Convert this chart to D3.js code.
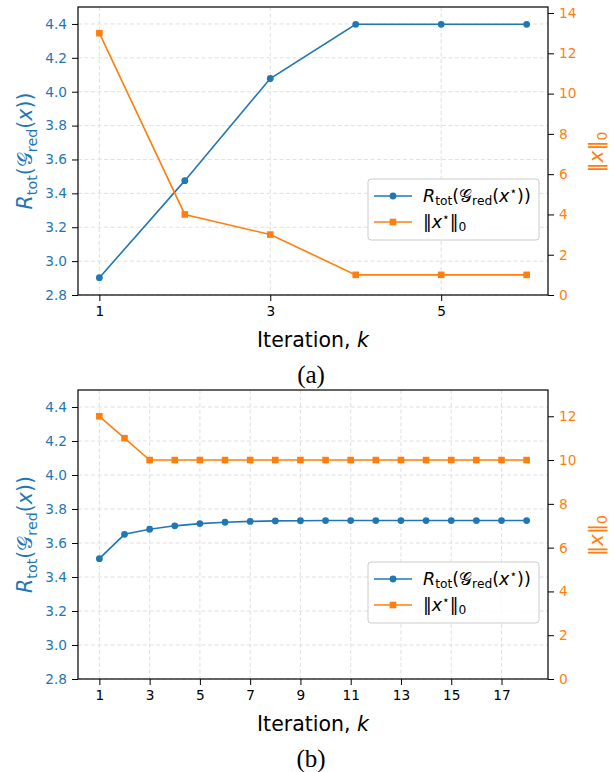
<!DOCTYPE html>
<html>
<head>
<meta charset="utf-8">
<script src="https://cdn.jsdelivr.net/npm/d3@7"></script>
<style>
  body { margin: 0; background: #fff; }
  svg { display: block; font-family: "DejaVu Sans", sans-serif; }
  .grid line { stroke: #dcdcdc; stroke-dasharray: 4,2.5; stroke-width: 0.9; }
  .axis path { display: none; }
  .axis line { stroke: #000; stroke-width: 1; }
  .axis text { font-size: 13.7px; font-family: "DejaVu Sans", sans-serif; }
  .frame { fill: none; stroke: #000; stroke-width: 1.2; }
  .caption { font-family: "Liberation Serif", "DejaVu Serif", serif; font-size: 25px; }
</style>
</head>
<body>
<svg id="chart" width="616" height="772"></svg>
<script>
// panel (a)
const iterA = [1, 2, 3, 4, 5, 6];
const rtotA = [2.902, 3.475, 4.078, 4.398, 4.398, 4.398];
const l0A = [13, 4, 3, 1, 1, 1];
const xTicksA = [1, 3, 5];
const rightTicksA = [0, 2, 4, 6, 8, 10, 12, 14];

// panel (b)
const iterB = [1, 2, 3, 4, 5, 6, 7, 8, 9, 10, 11, 12, 13, 14, 15, 16, 17, 18];
const rtotB = [3.508, 3.651, 3.681, 3.701, 3.714, 3.722, 3.727, 3.730, 3.731, 3.732,
  3.732, 3.732, 3.732, 3.732, 3.732, 3.732, 3.732, 3.732];
const l0B = [12, 11, 10, 10, 10, 10, 10, 10, 10, 10, 10, 10, 10, 10, 10, 10, 10, 10];
const xTicksB = [1, 3, 5, 7, 9, 11, 13, 15, 17];
const rightTicksB = [0, 2, 4, 6, 8, 10, 12];

// shared left axis
const leftTicks = [2.8, 3.0, 3.2, 3.4, 3.6, 3.8, 4.0, 4.2, 4.4];
const leftDomain = [2.8, 4.5];

const BLUE = "#1f77b4";
const ORANGE = "#ff7f0e";

// mathtext-ish labels built from tspans
const rtotLabel = [
  { t: "R", it: true }, { t: "tot", sub: true }, { t: "(" }, { t: "𝒢" },
  { t: "red", sub: true }, { t: "(" }, { t: "x", it: true }, { t: "))" }
];
const rtotLegend = [
  { t: "R", it: true }, { t: "tot", sub: true }, { t: "(" }, { t: "𝒢" },
  { t: "red", sub: true }, { t: "(" }, { t: "x", it: true }, { t: "⋆", sup: true }, { t: "))" }
];
const normLabel = [{ t: "‖" }, { t: "x", it: true }, { t: "‖" }, { t: "0", sub: true }];
const normLegend = [
  { t: "‖" }, { t: "x", it: true }, { t: "⋆", sup: true }, { t: "‖" }, { t: "0", sub: true }
];

function mathText(sel, parts, size) {
  let shift = 0;
  parts.forEach((p) => {
    const target = p.sub ? size * 0.22 : p.sup ? -size * 0.38 : 0;
    const ts = sel
      .append("tspan")
      .attr("dy", target - shift)
      .style("font-size", (p.sub || p.sup ? size * 0.7 : size) + "px")
      .text(p.t);
    if (p.it) ts.style("font-style", "italic");
    shift = target;
  });
}

class DualAxisPanel {
  constructor(_config, _iter, _rtot, _l0, _xTicks, _rightTicks) {
    this.config = {
      parent: _config.parent,
      left: _config.left,
      top: _config.top,
      width: _config.width,
      height: _config.height,
      caption: _config.caption,
    };
    this.iter = _iter;
    this.rtot = _rtot;
    this.l0 = _l0;
    this.xTicks = _xTicks;
    this.rightTicks = _rightTicks;
    this.initVis();
  }

  initVis() {
    let vis = this;
    const c = vis.config;

    vis.g = d3.select(c.parent).append("g")
      .attr("transform", `translate(${c.left},${c.top})`);

    // matplotlib-like 5% margins on x, 10% headroom on the right axis
    const ext = d3.extent(vis.iter);
    const pad = (ext[1] - ext[0]) * 0.05;
    vis.x = d3.scaleLinear().domain([ext[0] - pad, ext[1] + pad]).range([0, c.width]);
    vis.yL = d3.scaleLinear().domain(leftDomain).range([c.height, 0]);
    vis.yR = d3.scaleLinear().domain([0, d3.max(vis.l0) * 1.1]).range([c.height, 0]);

    vis.renderVis();
  }

  renderVis() {
    let vis = this;
    const c = vis.config;
    const g = vis.g;

    // grid
    const grid = g.append("g").attr("class", "grid");
    grid.selectAll(".gx").data(vis.xTicks).join("line")
      .attr("x1", (d) => vis.x(d)).attr("x2", (d) => vis.x(d))
      .attr("y1", 0).attr("y2", c.height);
    grid.selectAll(".gy").data(leftTicks).join("line")
      .attr("x1", 0).attr("x2", c.width)
      .attr("y1", (d) => vis.yL(d)).attr("y2", (d) => vis.yL(d));

    // series
    const lineL = d3.line().x((d, i) => vis.x(vis.iter[i])).y((d) => vis.yL(d));
    const lineR = d3.line().x((d, i) => vis.x(vis.iter[i])).y((d) => vis.yR(d));

    g.append("path").datum(vis.rtot)
      .attr("d", lineL).attr("fill", "none")
      .attr("stroke", BLUE).attr("stroke-width", 1.6);
    g.selectAll(".dot").data(vis.rtot).join("circle")
      .attr("class", "dot")
      .attr("cx", (d, i) => vis.x(vis.iter[i]))
      .attr("cy", (d) => vis.yL(d))
      .attr("r", 3.4).attr("fill", BLUE);

    g.append("path").datum(vis.l0)
      .attr("d", lineR).attr("fill", "none")
      .attr("stroke", ORANGE).attr("stroke-width", 1.6);
    const s = 6.6;
    g.selectAll(".sq").data(vis.l0).join("rect")
      .attr("class", "sq")
      .attr("x", (d, i) => vis.x(vis.iter[i]) - s / 2)
      .attr("y", (d) => vis.yR(d) - s / 2)
      .attr("width", s).attr("height", s).attr("fill", ORANGE);

    // axes
    const ax = g.append("g").attr("class", "axis")
      .attr("transform", `translate(0,${c.height})`)
      .call(d3.axisBottom(vis.x).tickValues(vis.xTicks).tickFormat(d3.format("d"))
        .tickSize(6).tickPadding(5));
    ax.selectAll("text").attr("fill", "#000");

    const ayl = g.append("g").attr("class", "axis")
      .call(d3.axisLeft(vis.yL).tickValues(leftTicks).tickFormat(d3.format(".1f"))
        .tickSize(6).tickPadding(5));
    ayl.selectAll("text").attr("fill", BLUE);

    const ayr = g.append("g").attr("class", "axis")
      .attr("transform", `translate(${c.width},0)`)
      .call(d3.axisRight(vis.yR).tickValues(vis.rightTicks).tickFormat(d3.format("d"))
        .tickSize(6).tickPadding(5));
    ayr.selectAll("text").attr("fill", ORANGE);

    g.append("rect").attr("class", "frame")
      .attr("width", c.width).attr("height", c.height);

    // axis titles
    const yl = g.append("text")
      .attr("transform", `translate(${-46},${c.height / 2}) rotate(-90)`)
      .attr("text-anchor", "middle").attr("fill", BLUE);
    mathText(yl, rtotLabel, 20.5);

    const yr = g.append("text")
      .attr("transform", `translate(${c.width + 55},${c.height / 2 + 1}) rotate(-90)`)
      .attr("text-anchor", "middle").attr("fill", ORANGE);
    mathText(yr, normLabel, 20);

    g.append("text")
      .attr("x", c.width / 2).attr("y", c.height + 51.5)
      .attr("text-anchor", "middle")
      .style("font-size", "20.5px")
      .html('Iteration, <tspan font-style="italic">k</tspan>');

    g.append("text").attr("class", "caption")
      .attr("x", c.width / 2 - 2).attr("y", c.height + 88)
      .attr("text-anchor", "middle")
      .text(c.caption);

    // legend
    const lw = 171, lh = 61;
    const lg = g.append("g")
      .attr("transform", `translate(${c.width - 9 - lw},${172})`);
    lg.append("rect")
      .attr("width", lw).attr("height", lh).attr("rx", 3)
      .attr("fill", "#fff").attr("fill-opacity", 0.85)
      .attr("stroke", "#cccccc").attr("stroke-width", 1);

    const items = [
      { color: BLUE, parts: rtotLegend, marker: "circle" },
      { color: ORANGE, parts: normLegend, marker: "square" },
    ];
    const it = lg.selectAll(".legend-item").data(items).join("g")
      .attr("class", "legend-item")
      .attr("transform", (d, i) => `translate(0,${17 + i * 26})`);
    it.append("line")
      .attr("x1", 6).attr("x2", 44)
      .attr("stroke", (d) => d.color).attr("stroke-width", 1.6);
    it.filter((d) => d.marker === "circle").append("circle")
      .attr("cx", 25).attr("r", 3.4).attr("fill", (d) => d.color);
    it.filter((d) => d.marker === "square").append("rect")
      .attr("x", 25 - s / 2).attr("y", -s / 2).attr("width", s).attr("height", s)
      .attr("fill", (d) => d.color);
    it.each(function (d) {
      const t = d3.select(this).append("text").attr("x", 55).attr("y", 5.5).attr("fill", "#000");
      mathText(t, d.parts, 17.5);
    });
  }
}

new DualAxisPanel({ parent: "#chart", left: 78, top: 7, width: 470, height: 288, caption: "(a)" },
  iterA, rtotA, l0A, xTicksA, rightTicksA);
new DualAxisPanel({ parent: "#chart", left: 78, top: 390, width: 470, height: 289, caption: "(b)" },
  iterB, rtotB, l0B, xTicksB, rightTicksB);
</script>
</body>
</html>
